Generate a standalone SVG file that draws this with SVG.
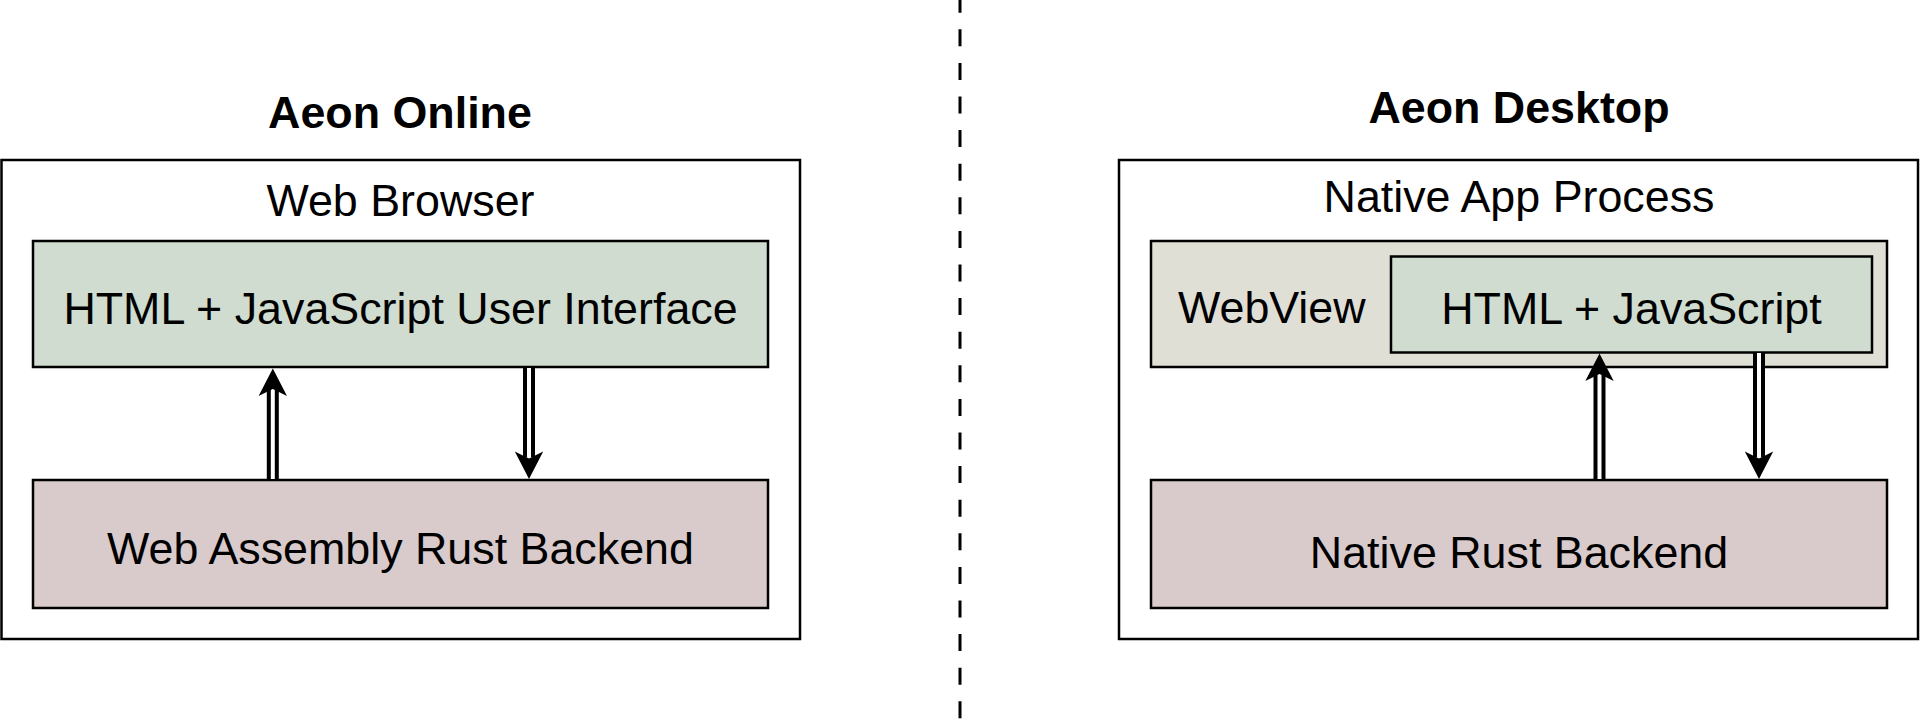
<svg xmlns="http://www.w3.org/2000/svg" width="1920" height="721" viewBox="0 0 1920 721">
<style>
.box{stroke:#000;stroke-width:2.5}
.outer{fill:#fff}
.green{fill:#cfdccf}
.beige{fill:#dfdfd6}
.pink{fill:#d9cbcb}
text{font-family:"Liberation Sans",Arial,sans-serif;font-size:44.8px;fill:#000}
.title{font-weight:bold}
.mid{text-anchor:middle}
.shaft{fill:none;stroke:#000;stroke-width:12}
.inner{fill:none;stroke:#fff;stroke-width:4}
.head{fill:#000;stroke:none}
</style>
<rect width="1920" height="721" fill="#fff"/>
<line x1="960" y1="0" x2="960" y2="721" stroke="#000" stroke-width="3" stroke-dasharray="17 16.6" stroke-dashoffset="4.3"/>

<g id="online">
<text class="title mid" x="400" y="128">Aeon Online</text>
<g id="web-browser">
<rect class="box outer" x="1.5" y="160" width="798.5" height="479"/>
<text class="mid" x="400.5" y="215.5">Web Browser</text>
</g>
<g id="html-js-ui">
<rect class="box green" x="33" y="241" width="735" height="126"/>
<text class="mid" x="400.5" y="324">HTML + JavaScript User Interface</text>
</g>
<g id="wasm-backend">
<rect class="box pink" x="33" y="480" width="735" height="128"/>
<text class="mid" x="400.5" y="564">Web Assembly Rust Backend</text>
</g>
</g>

<g id="desktop">
<text class="title mid" x="1519" y="123">Aeon Desktop</text>
<g id="native-app-process">
<rect class="box outer" x="1119" y="160" width="799" height="479"/>
<text class="mid" x="1519" y="211.5">Native App Process</text>
</g>
<g id="webview">
<rect class="box beige" x="1151" y="241" width="736" height="126"/>
<text x="1178" y="323">WebView</text>
</g>
<g id="html-js">
<rect class="box green" x="1391" y="256.5" width="481" height="96"/>
<text class="mid" x="1631.5" y="324">HTML + JavaScript</text>
</g>
<g id="native-backend">
<rect class="box pink" x="1151" y="480" width="736" height="128"/>
<text class="mid" x="1519" y="568">Native Rust Backend</text>
</g>
</g>

<g id="connectors">
<path class="shaft" d="M272.8 479 V390"/>
<path class="inner" d="M272.8 479 V390"/>
<path class="head" d="M272.8 368.5 L287 396 L272.8 389 L258.6 396 Z"/>

<path class="shaft" d="M529 368 V457"/>
<path class="inner" d="M529 368 V457"/>
<path class="head" d="M529 479 L543.2 451.5 L529 458.5 L514.8 451.5 Z"/>

<path class="shaft" d="M1599.5 479 V375"/>
<path class="inner" d="M1599.5 479 V375"/>
<path class="head" d="M1599.5 353.5 L1613.7 381 L1599.5 374 L1585.3 381 Z"/>

<path class="shaft" d="M1759 353 V457"/>
<path class="inner" d="M1759 353 V457"/>
<path class="head" d="M1759 479 L1773.2 451.5 L1759 458.5 L1744.8 451.5 Z"/>
</g>
</svg>
